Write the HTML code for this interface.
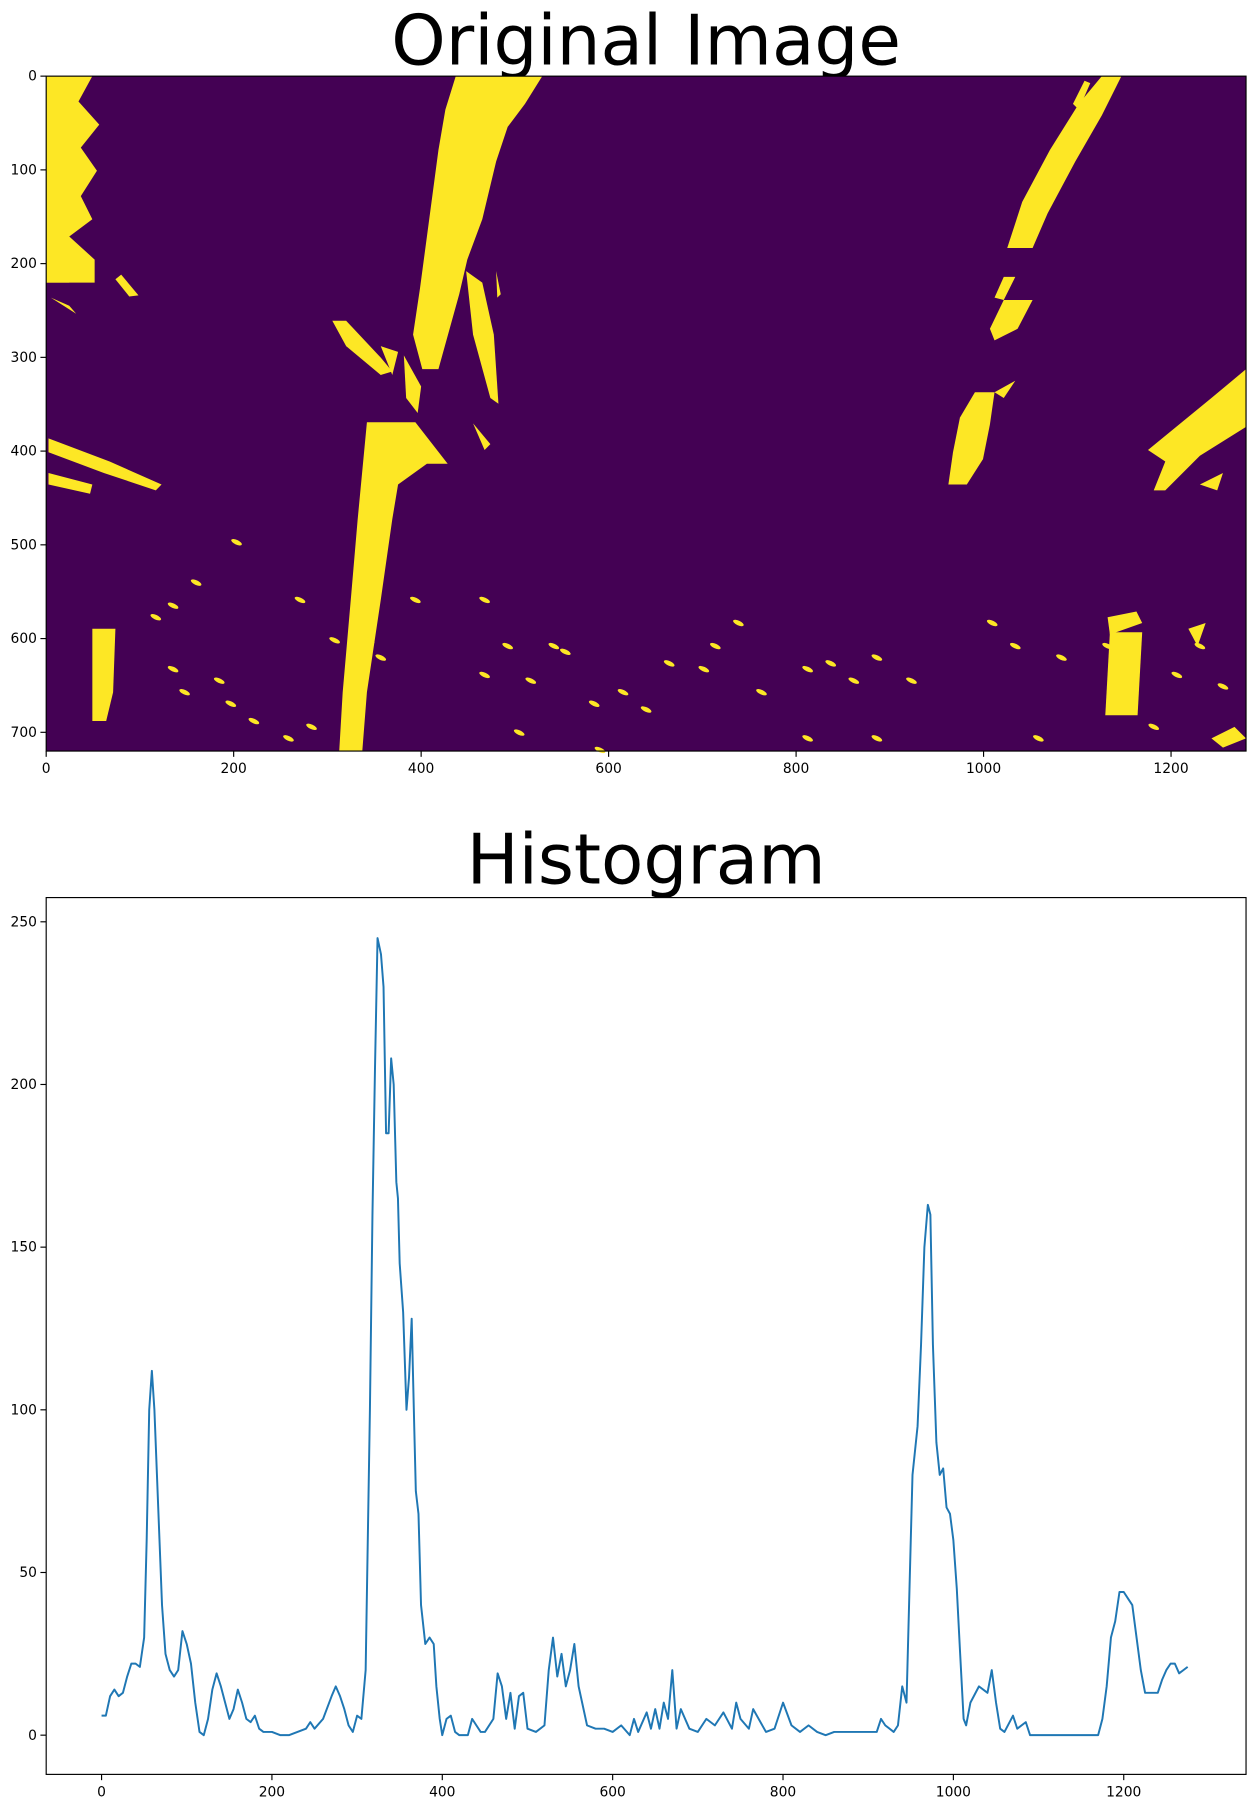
<!DOCTYPE html>
<html><head><meta charset="utf-8"><style>
html,body{margin:0;padding:0;background:#fff;}
svg{display:block;font-family:"DejaVu Sans","Liberation Sans",sans-serif;}
</style></head><body>
<svg id="fig" width="1256" height="1809" viewBox="0 0 1088.6 1568">
<text x="560" y="56" font-size="60" text-anchor="middle">Original Image</text>
<text x="560" y="766" font-size="60" text-anchor="middle">Histogram</text>
<g id="img"></g>
<g id="hist"></g>
</svg>
<script>
// Histogram data (x pixel column, pixel count)
const histX = [0,5,10,15,20,25,30,35,40,45,50,53,56,59,62,65,68,71,75,80,85,90,95,100,105,110,115,120,125,130,135,140,145,150,155,160,165,170,175,180,185,190,200,210,220,230,240,245,250,260,270,275,280,285,290,295,300,305,310,315,318,321,324,328,331,334,337,340,343,346,348,350,354,358,361,364,367,369,372,375,380,385,390,393,397,400,405,410,415,420,430,435,445,450,460,465,470,475,480,485,490,495,500,510,520,525,530,535,540,545,550,555,560,570,580,590,600,610,620,625,630,640,645,650,655,660,665,670,675,680,690,700,710,720,730,740,745,750,760,765,780,790,800,810,820,830,840,850,860,870,880,890,900,910,915,920,930,935,940,945,950,952,958,962,966,970,973,976,980,984,988,992,996,1000,1004,1008,1012,1015,1020,1030,1040,1045,1050,1055,1060,1070,1075,1085,1090,1110,1150,1170,1175,1180,1185,1190,1195,1200,1205,1210,1215,1220,1225,1230,1240,1245,1250,1255,1260,1265,1270,1275];
const histY = [6,6,12,14,12,13,18,22,22,21,30,60,100,112,100,80,60,40,25,20,18,20,32,28,22,10,1,0,5,14,19,15,10,5,8,14,10,5,4,6,2,1,1,0,0,1,2,4,2,5,12,15,12,8,3,1,6,5,20,100,160,205,245,240,230,185,185,208,200,170,165,145,130,100,110,128,95,75,68,40,28,30,28,15,5,0,5,6,1,0,0,5,1,1,5,19,15,5,13,2,12,13,2,1,3,20,30,18,25,15,20,28,15,3,2,2,1,3,0,5,1,7,2,8,2,10,5,20,2,8,2,1,5,3,7,2,10,5,2,8,1,2,10,3,1,3,1,0,1,1,1,1,1,1,5,3,1,3,15,10,60,80,95,120,150,163,160,120,90,80,82,70,68,60,45,25,5,3,10,15,13,20,10,2,1,6,2,4,0,0,0,0,5,15,30,35,44,44,42,40,30,20,13,13,13,17,20,22,22,19,20,21];
const histXTicks = [0,200,400,600,800,1000,1200];
const histYTicks = [0,50,100,150,200,250];
const imgXTicks = [0,200,400,600,800,1000,1200];
const imgYTicks = [0,100,200,300,400,500,600,700];

const NS="http://www.w3.org/2000/svg";
function mk(tag,attrs,parent){const e=document.createElementNS(NS,tag);for(const k in attrs)e.setAttribute(k,attrs[k]);parent.appendChild(e);return e;}

// ---- image panel ----
const img=document.getElementById('img');
const iL=40,iT=66,iS=1040/1280;
const ix=v=>iL+v*iS, iy=v=>iT+v*iS;
let r=mk('rect',{x:iL,y:iT,width:1040,height:585,fill:'#440154'},img);


const shapes=[
"40,66 80,66 68,88 86,108 70,128 84,148 70,170 80,190 60,205 82,225 82,245 40,245",
"40,245 60,245 50,232",
"44,258 66,272 60,265",
"105,238 120,256 112,257 100,242",
"395,66 470,66 455,90 440,110 430,140 418,190 405,225 398,255 380,320 366,320 358,290 364,250 372,190 380,130 386,95",
"288,278 300,278 330,310 340,322 330,325 300,300",
"350,308 365,335 362,358 352,345",
"330,300 345,305 340,325",
"404,235 418,245 428,290 432,350 425,345 410,290",
"430,235 434,255 431,258",
"318,366 360,366 388,402 370,402 345,420 340,450 330,520 318,600 314,651 294,651 297,600 304,520 310,450",
"410,367 425,385 420,390",
"42,380 95,400 140,420 135,425 90,410 42,392",
"42,410 80,420 78,428 42,420",
"80,545 100,545 98,600 92,625 80,625",
"955,66 972,66 955,100 932,140 908,185 895,215 873,215 886,175 910,130 935,90",
"930,90 940,70 945,72 935,95",
"870,240 880,240 870,260 862,258",
"870,260 895,260 882,285 862,295 858,285",
"845,340 862,340 858,368 852,398 838,420 822,420 826,392 832,362",
"862,340 880,330 870,345",
"995,390 1050,345 1080,320 1080,370 1040,395 1010,425 1000,425 1010,400",
"1040,420 1060,410 1055,425",
"962,548 990,548 986,620 958,620",
"960,535 985,530 990,540 962,550",
"1030,545 1045,540 1038,560",
"1050,640 1070,630 1080,640 1060,648"
];
shapes.forEach((p,i)=>{const s=mk('polygon',{points:p,fill:'#fde725'},img);

});
const dots=[[205,470],[170,505],[150,525],[135,535],[260,520],[290,555],[320,555],[330,570],[420,585],[460,590],[480,560],[490,565],[515,610],[540,600],[560,615],[580,575],[610,580],[640,540],[620,560],[660,600],[700,580],[720,575],[740,590],[760,570],[790,590],[860,540],[880,560],[920,570],[960,560],[1020,585],[1040,560],[1060,595],[190,590],[200,610],[220,625],[250,640],[270,630],[450,635],[520,650],[700,640],[760,640],[900,640],[1000,630],[440,560],[420,520],[360,520],[150,580],[160,600]];
dots.forEach((d,i)=>{const s=mk('ellipse',{cx:d[0],cy:d[1],rx:5,ry:2,fill:'#fde725',transform:`rotate(25 ${d[0]} ${d[1]})`},img);

});
let f=mk('rect',{x:iL,y:iT,width:1040,height:585,fill:'none',stroke:'#000','stroke-width':1},img);


imgXTicks.forEach(v=>{mk('line',{x1:ix(v),x2:ix(v),y1:651,y2:656,stroke:'#000'},img);
const t=mk('text',{x:ix(v),y:670,'font-size':12,'text-anchor':'middle'},img);t.textContent=v;

});
imgYTicks.forEach(v=>{mk('line',{x1:35,x2:40,y1:iy(v),y2:iy(v),stroke:'#000'},img);
const t=mk('text',{x:32,y:iy(v)+4,'font-size':12,'text-anchor':'end'},img);t.textContent=v;

});

// ---- histogram ----
const h=document.getElementById('hist');
const hx=v=>88+v*(886/1200), hy=v=>1504-v*2.82;
const pts=histX.map((x,i)=>hx(x).toFixed(1)+','+hy(histY[i]).toFixed(1)).join(' ');
const line=mk('polyline',{points:pts,fill:'none',stroke:'#1f77b4','stroke-width':1.7,'stroke-linejoin':'round'},h);


const hf=mk('rect',{x:40,y:778,width:1040,height:760,fill:'none',stroke:'#000','stroke-width':1},h);


histXTicks.forEach(v=>{mk('line',{x1:hx(v),x2:hx(v),y1:1538,y2:1543,stroke:'#000'},h);
const t=mk('text',{x:hx(v),y:1557,'font-size':12,'text-anchor':'middle'},h);t.textContent=v;

});
histYTicks.forEach(v=>{mk('line',{x1:35,x2:40,y1:hy(v),y2:hy(v),stroke:'#000'},h);
const t=mk('text',{x:32,y:hy(v)+4,'font-size':12,'text-anchor':'end'},h);t.textContent=v;

});
</script>
</body></html>
